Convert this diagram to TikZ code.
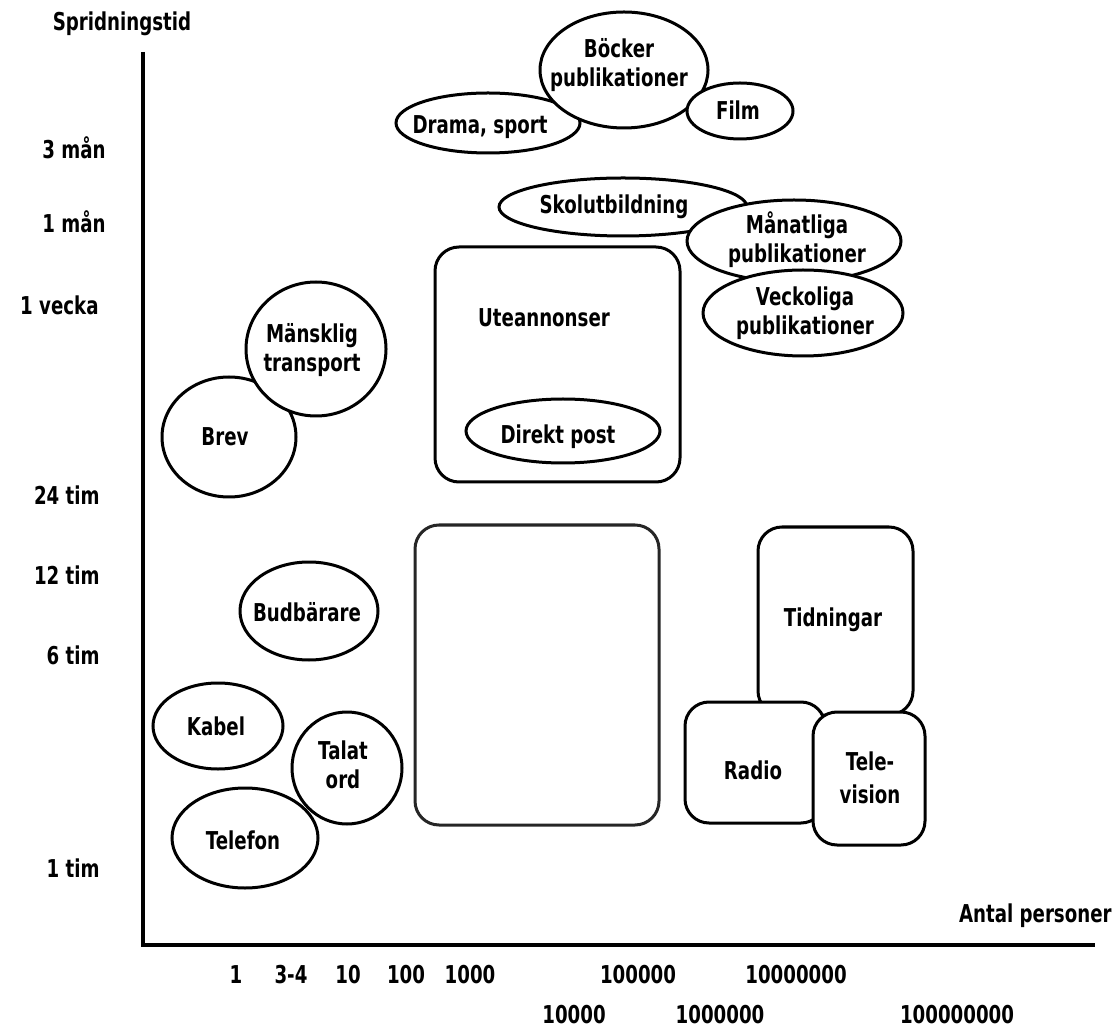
\documentclass[tikz,border=0pt]{standalone}
\usepackage{fontspec}
\setmainfont{DejaVu Sans}[FakeStretch=0.74]
\usetikzlibrary{shapes.geometric}
\begin{document}
\begin{tikzpicture}[x=0.5pt,y=-0.5pt,
  every node/.style={font=\bfseries\fontsize{12.3}{14.5}\selectfont},
  oval/.style 2 args={draw, ellipse, line width=1.5pt, fill=white, inner sep=0pt,
    minimum width=#1pt, minimum height=#2pt},
  rbox/.style={draw, rectangle, rounded corners=12pt, line width=1.5pt, fill=white, inner sep=0pt},
  txt/.style={align=center, inner sep=0pt},
  ylab/.style={anchor=east, inner sep=0pt},
  xlab/.style={inner sep=0pt},
  axis/.style={line width=1.7pt}]
\useasboundingbox (0,0) rectangle (1117,1036);

% axes
\coordinate (ytop) at (143,52);
\coordinate (orig) at (143,945);
\coordinate (xend) at (1095,945);
\draw[axis] (ytop) -- (orig) -- (xend);
\node[txt] (ytitle) at (122,24) {Spridningstid};
\node[txt, anchor=east] (xtitle) at (1112,916) {Antal personer};

% y labels
\node[ylab] (y1) at (106,148) {3 mån};
\node[ylab] (y2) at (106,222) {1 mån};
\node[ylab] (y3) at (99,305) {1 vecka};
\node[ylab] (y4) at (100,495) {24 tim};
\node[ylab] (y5) at (100,575) {12 tim};
\node[ylab] (y6) at (100,655) {6 tim};
\node[ylab] (y7) at (100,868) {1 tim};

% x labels
\node[xlab] (x1) at (236,975) {1};
\node[xlab] (x2) at (291,975) {3-4};
\node[xlab] (x3) at (348,975) {10};
\node[xlab] (x4) at (406,975) {100};
\node[xlab] (x5) at (470,975) {1000};
\node[xlab] (x6) at (638,975) {100000};
\node[xlab] (x7) at (796,975) {10000000};
\node[xlab] (x8) at (574,1015) {10000};
\node[xlab] (x9) at (720,1015) {1000000};
\node[xlab] (x10) at (957,1015) {100000000};

% top cluster
\node[oval={92}{30}] (drama) at (488,123) {};
\node[txt] (dramat) at (480,127) {Drama, sport};
\node[oval={84}{58}] (bok) at (624,70) {};
\node[txt] (bokt) at (619,65) {Böcker\\publikationer};
\node[oval={53}{28}] (film) at (740,111) {};
\node[txt] (filmt) at (738,110) {Film};

\node[oval={124}{29}] (skol) at (623,207) {};
\node[txt] (skolt) at (614,207) {Skolutbildning};
\node[oval={107}{41}] (man) at (794,241) {};
\node[txt] (mant) at (797,240) {Månatliga\\publikationer};
\node[oval={100}{43}] (veck) at (803,313) {};
\node[txt] (veckt) at (805,313) {Veckoliga\\publikationer};

% Uteannonser
\node[rbox, minimum width=122.5pt, minimum height=117.5pt] (ute) at (557.5,364.5) {};
\node[txt] (utet) at (544,318) {Uteannonser};
\node[oval={97}{32}] (dir) at (563,431) {};
\node[txt] (dirt) at (558,437) {Direkt post};

% left cluster
\node[oval={67}{60}] (brev) at (229,437) {};
\node[txt] (brevt) at (225,437) {Brev};
\node[oval={70}{67}] (mans) at (316,349) {};
\node[txt] (manst) at (312,350) {Mänsklig\\transport};

\node[oval={69}{49}] (bud) at (309,611) {};
\node[txt] (budt) at (307,612) {Budbärare};
\node[oval={65}{43}] (kab) at (218,726) {};
\node[txt] (kabt) at (216,726) {Kabel};
\node[oval={55}{56}] (tal) at (347,768) {};
\node[txt] (talt) at (343,765) {Talat\\ord};
\node[oval={73}{50}] (tel) at (245,838) {};
\node[txt] (telt) at (243,840) {Telefon};

% blank box
\node[rbox, draw=black!85, minimum width=122pt, minimum height=150pt] (blank) at (537,675) {};

% media
\node[rbox, minimum width=77.5pt, minimum height=94pt] (tid) at (835.5,621) {};
\node[txt] (tidt) at (833,620) {Tidningar};
\node[rbox, minimum width=70pt, minimum height=60.5pt] (rad) at (755,762.5) {};
\node[txt] (radt) at (753,770) {Radio};
\node[rbox, minimum width=56pt, minimum height=66.5pt] (tv) at (869,778.5) {};
\node[txt] (tvt) at (870,778) {Tele-\\[2pt]vision};
\end{tikzpicture}
\end{document}
